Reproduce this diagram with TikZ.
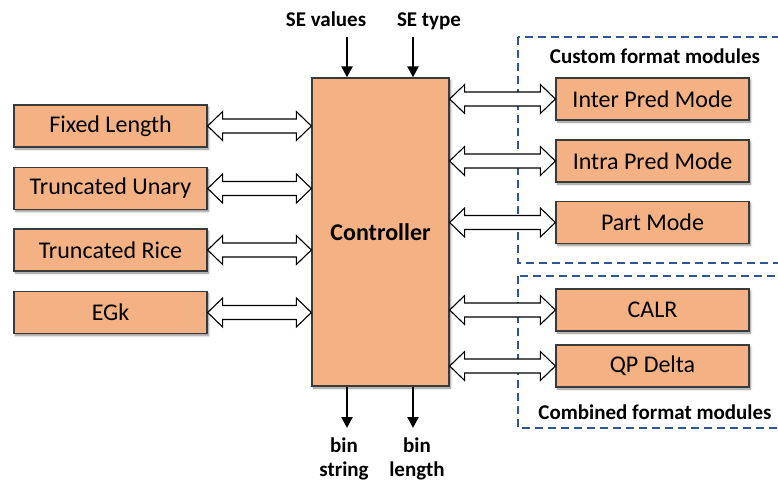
\documentclass[tikz,border=0pt]{standalone}
\usepackage{fontspec}
\setmainfont{Carlito}
\usetikzlibrary{arrows.meta,calc,shadows.blur}

\definecolor{boxfill}{HTML}{F4B183}
\definecolor{boxline}{HTML}{3A3A3A}
\definecolor{groupline}{HTML}{2F5597}

\tikzset{
  module/.style={draw=boxline, line width=1.3pt, fill=boxfill,
    minimum width=193pt, minimum height=42pt, inner sep=0pt,
    font=\fontsize{24}{28}\selectfont,
    blur shadow={shadow xshift=1.5pt, shadow yshift=-2pt,
      shadow blur radius=2pt, shadow blur steps=5, shadow opacity=45}},
  ctrlbox/.style={module, minimum width=137pt, minimum height=308pt,
    font=\fontsize{24}{28}\selectfont\bfseries},
  lbl/.style={font=\fontsize{21}{24}\selectfont\bfseries, inner sep=0pt},
  signal/.style={line width=2.4pt, -{Triangle[width=11pt,length=11pt]}},
  hollow/.style={draw=black, line width=1.1pt, fill=white, line join=miter},
  group/.style={draw=groupline, line width=1.8pt, dash pattern=on 8pt off 5pt}
}

% hollow two-headed arrow from anchor #1 to anchor #2 at the height of node #3
\newcommand\biarrow[3]{%
  \path[hollow] let \p1=(#1), \p2=(#2), \p3=(#3) in
    (\x1,\y3) -- (\x1+15pt,\y3+14.5pt) -- (\x1+15pt,\y3+7pt)
    -- (\x2-15pt,\y3+7pt) -- (\x2-15pt,\y3+14.5pt) -- (\x2,\y3)
    -- (\x2-15pt,\y3-14.5pt) -- (\x2-15pt,\y3-7pt)
    -- (\x1+15pt,\y3-7pt) -- (\x1+15pt,\y3-14.5pt) -- cycle;}

\begin{document}
\begin{tikzpicture}[x=1pt,y=-1pt]
\useasboundingbox (0,0) rectangle (778,482);

% module groups on the right
\begin{scope}
  \clip (0,0) rectangle (778,482);
  \draw[group] (518,37) rectangle (800,263);
  \draw[group] (518,276) rectangle (800,428);
\end{scope}
\node[lbl, anchor=base] (custom) at (655,63) {Custom format modules};
\node[lbl, anchor=base] (combined) at (655,419) {Combined format modules};

% controller
\node[ctrlbox] (ctrl) at (380.5,232) {Controller};

% generic binarization modules
\node[module] (fl)  at (110.5,126)   {Fixed Length};
\node[module] (tu)  at (110.5,188.5) {Truncated Unary};
\node[module] (tr)  at (110.5,250)   {Truncated Rice};
\node[module] (egk) at (110.5,312.5) {EGk};

% custom and combined format modules
\node[module] (inter) at (652.5,99)    {Inter Pred Mode};
\node[module] (intra) at (652.5,161)   {Intra Pred Mode};
\node[module] (part)  at (652.5,222.5) {Part Mode};
\node[module] (calr)  at (652.5,310)   {CALR};
\node[module] (qpd)   at (652.5,366)   {QP Delta};

% data exchange with the controller
\foreach \m in {fl,tu,tr,egk}
  \biarrow{\m.east}{ctrl.west}{\m};
\foreach \m in {inter,intra,part,calr,qpd}
  \biarrow{ctrl.east}{\m.west}{\m};

% inputs
\node[lbl, anchor=base] (sev) at (326,26) {SE values};
\node[lbl, anchor=base] (set) at (429,26) {SE type};
\coordinate (sevin) at (347,37);
\coordinate (setin) at (413,37);
\draw[signal] (sevin) -- (sevin |- ctrl.north);
\draw[signal] (setin) -- (setin |- ctrl.north);

% outputs
\coordinate (bsout) at (347,428);
\coordinate (blout) at (413,428);
\draw[signal] (bsout |- ctrl.south) -- (bsout);
\draw[signal] (blout |- ctrl.south) -- (blout);
\node[lbl, align=center, font=\fontsize{21}{24}\selectfont\bfseries] (bs) at (344,459) {bin\\string};
\node[lbl, align=center, font=\fontsize{21}{24}\selectfont\bfseries] (bl) at (417,459) {bin\\length};
\end{tikzpicture}
\end{document}
